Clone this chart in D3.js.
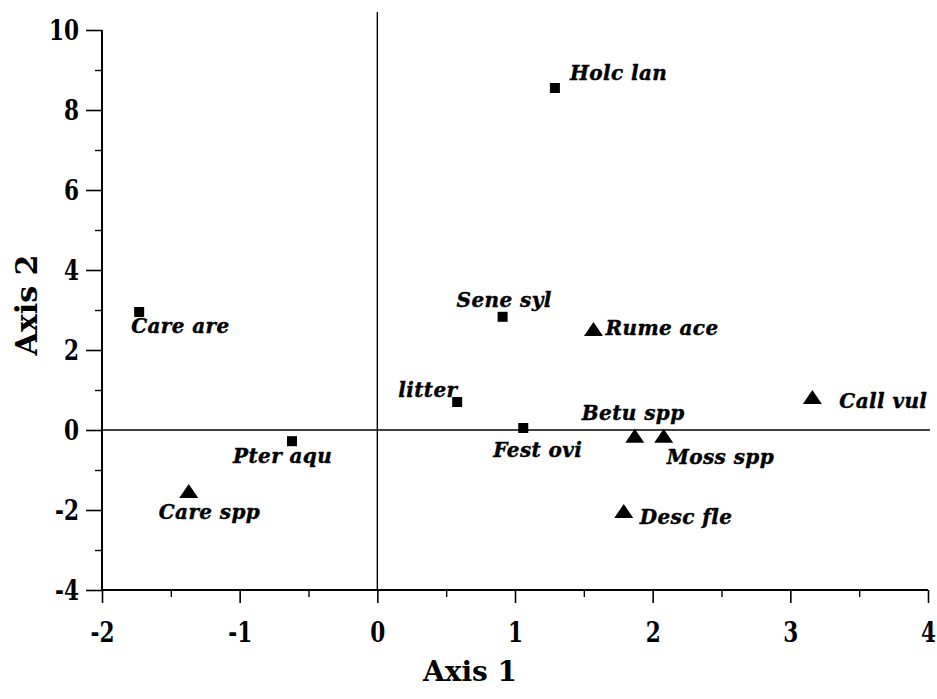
<!DOCTYPE html>
<html>
<head>
<meta charset="utf-8">
<script src="https://cdn.jsdelivr.net/npm/d3@7"></script>
<style>
  html, body { margin: 0; padding: 0; background: #fff; }
  svg { display: block; }
  .num { font-family: "DejaVu Serif", serif; font-weight: bold; }
  .title { font-family: "DejaVu Serif", serif; font-weight: bold; }
  .sp-label { font-family: "DejaVu Serif", serif; font-weight: bold; font-style: italic; }
</style>
</head>
<body>
<svg id="chart" width="937" height="699"></svg>
<script>
// Ordination scores (axis 1, axis 2) for each species / cover class
const species = ["Holc lan", "Care are", "Pter aqu", "Care spp", "Sene syl", "Rume ace",
                 "litter", "Fest ovi", "Betu spp", "Moss spp", "Call vul", "Desc fle"];
const axis1   = [1.29, -1.73, -0.62, -1.37, 0.91, 1.57, 0.58, 1.06, 1.87, 2.08, 3.16, 1.79];
const axis2   = [8.55,  2.95, -0.28, -1.55, 2.83, 2.50, 0.70, 0.05, -0.17, -0.17, 0.80, -2.05];
const markerType = ["square", "square", "square", "triangle", "square", "triangle",
                    "square", "square", "triangle", "triangle", "triangle", "triangle"];

const xTicks = [-2, -1, 0, 1, 2, 3, 4];
const yTicks = [-4, -2, 0, 2, 4, 6, 8, 10];

// label placement relative to each marker (pixels)
const labelOffset = {
  "Holc lan": [15, -8],  "Care are": [-8, 21],  "Pter aqu": [-59, 22], "Care spp": [-30, 27],
  "Sene syl": [-46, -10], "Rume ace": [12, 5],  "litter":   [-59, -5], "Fest ovi": [-30, 29],
  "Betu spp": [-53, -17], "Moss spp": [3, 27],  "Call vul": [27, 10],  "Desc fle": [16, 12]
};

const svg = d3.select("#chart");
const x = d3.scaleLinear().domain([-2, 4]).range([102, 928]);
const y = d3.scaleLinear().domain([-4, 10]).range([590, 30]);

const numFmt = d => d < 0 ? "-" + Math.abs(d) : String(d);
const squeeze = 0.8;   // horizontal compression of the numeral glyphs

// reference lines through the origin
svg.append("line")
  .attr("x1", x(-2)).attr("x2", x(4) + 2).attr("y1", y(0)).attr("y2", y(0))
  .attr("stroke", "#000").attr("stroke-width", 1.6);
svg.append("line")
  .attr("x1", x(0)).attr("x2", x(0)).attr("y1", 12).attr("y2", y(-4))
  .attr("stroke", "#000").attr("stroke-width", 1.4);

// bottom axis
const xAxis = d3.axisBottom(x).tickValues(xTicks).tickSize(13).tickFormat(numFmt);
const gx = svg.append("g").attr("transform", `translate(0,${y(-4)})`).call(xAxis);
gx.select(".domain").attr("stroke-width", 2).attr("d", `M${x(-2)},0H${x(4)}`);
gx.selectAll(".tick line").attr("stroke-width", 1.6);
gx.selectAll(".tick text").attr("class", "num").attr("font-size", 27).attr("fill", "#000")
  .attr("x", 0).attr("y", 52).attr("dy", null)
  .attr("transform", `scale(${squeeze},1)`);
const xMinor = d3.axisBottom(x).tickValues(d3.range(-1.5, 4, 1)).tickSize(7).tickFormat("");
const gxm = svg.append("g").attr("transform", `translate(0,${y(-4)})`).call(xMinor);
gxm.select(".domain").remove();
gxm.selectAll(".tick line").attr("stroke-width", 1.4);

// left axis
const yAxis = d3.axisLeft(y).tickValues(yTicks).tickSize(16).tickFormat(numFmt);
const gy = svg.append("g").attr("transform", `translate(${x(-2)},0)`).call(yAxis);
gy.select(".domain").attr("stroke-width", 2).attr("d", `M0,${y(10)}V${y(-4)}`);
gy.selectAll(".tick line").attr("stroke-width", 1.6);
gy.selectAll(".tick text").attr("class", "num").attr("font-size", 27).attr("fill", "#000")
  .attr("x", -23 / squeeze).attr("dy", "0.36em")
  .attr("transform", `scale(${squeeze},1)`);
const yMinor = d3.axisLeft(y).tickValues(d3.range(-3, 10, 2)).tickSize(7).tickFormat("");
const gym = svg.append("g").attr("transform", `translate(${x(-2)},0)`).call(yMinor);
gym.select(".domain").remove();
gym.selectAll(".tick line").attr("stroke-width", 1.4);

// axis titles
svg.append("text").attr("class", "title").attr("font-size", 28)
  .attr("text-anchor", "middle").attr("x", 470).attr("y", 681).text("Axis 1");
svg.append("text").attr("class", "title").attr("font-size", 30)
  .attr("text-anchor", "middle")
  .attr("transform", `translate(37,305) rotate(-90)`).text("Axis 2");

// markers
const pts = species.map((s, i) => ({ name: s, a1: axis1[i], a2: axis2[i], type: markerType[i] }));
const marks = svg.append("g");
pts.forEach(p => {
  const cx = x(p.a1), cy = y(p.a2);
  if (p.type === "square") {
    marks.append("rect").attr("x", cx - 5).attr("y", cy - 5)
      .attr("width", 10).attr("height", 10).attr("fill", "#000");
  } else {
    const path = d3.path();
    path.moveTo(cx, cy - 8);
    path.lineTo(cx + 9.5, cy + 6);
    path.lineTo(cx - 9.5, cy + 6);
    path.closePath();
    marks.append("path").attr("d", path.toString()).attr("fill", "#000");
  }
});

// species labels
svg.append("g").selectAll("text").data(pts).join("text")
  .attr("class", "sp-label").attr("font-size", 20).attr("letter-spacing", 0.4)
  .attr("fill", "#000").attr("stroke", "#000").attr("stroke-width", 0.4)
  .attr("x", d => x(d.a1) + labelOffset[d.name][0])
  .attr("y", d => y(d.a2) + labelOffset[d.name][1])
  .text(d => d.name);
</script>
</body>
</html>
